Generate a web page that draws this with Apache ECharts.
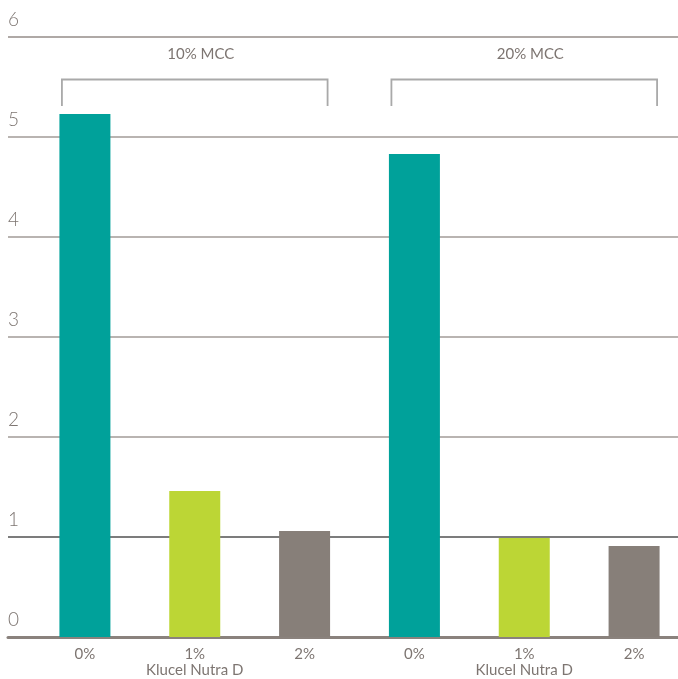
<!DOCTYPE html>
<html>
<head>
<meta charset="utf-8">
<script src="https://cdn.jsdelivr.net/npm/echarts@6/dist/echarts.min.js"></script>
<style>
  html, body { margin: 0; padding: 0; background: #fff; }
  #mycharts { width: 678px; height: 679px; }
</style>
</head>
<body>
<div id="mycharts"></div>
<script>
// data
var categories = ['0%', '1%\nKlucel Nutra D', '2%', '0%', '1%\nKlucel Nutra D', '2%'];
var values = [5.23, 1.46, 1.06, 4.83, 0.99, 0.91];
var barColors = ['#00a19a', '#bcd635', '#877f79', '#00a19a', '#bcd635', '#877f79'];
var groups = [[0, 2, '10% MCC'], [3, 5, '20% MCC']];
var yTicks = [0, 1, 2, 3, 4, 5, 6];

var textColor = '#7d7571';
var fontFamily = 'Lato, "Open Sans", sans-serif';

var myChart = echarts.init(document.getElementById('mycharts'));

var option = {
    animation: false,
    grid: [
        // grid for the full width gridlines and y labels
        { left: 8, right: 0, top: 37, bottom: 42, outerBoundsMode: 'none' },
        // grid for the bars (runs a little past the right edge)
        { left: 30, right: -11, top: 37, bottom: 42, outerBoundsMode: 'none' }
    ],
    xAxis: [{
        gridIndex: 0,
        type: 'value',
        min: 0,
        max: 1,
        axisLine: { show: true, onZero: false, lineStyle: { color: '#8a827d', width: 3 } },
        axisTick: { show: false },
        axisLabel: { show: false },
        splitLine: { show: false }
    }, {
        gridIndex: 1,
        type: 'category',
        data: categories,
        axisLine: { show: false },
        axisTick: { show: false },
        axisLabel: {
            interval: 0,
            color: textColor,
            fontFamily: fontFamily,
            fontSize: 15,
            lineHeight: 16,
            margin: 9
        }
    }],
    yAxis: [{
        gridIndex: 0,
        type: 'value',
        min: yTicks[0],
        max: yTicks[yTicks.length - 1],
        interval: 1,
        axisLine: { show: false },
        axisTick: { show: false },
        axisLabel: {
            inside: true,
            margin: 0,
            color: textColor,
            fontFamily: fontFamily,
            fontSize: 19,
            fontWeight: 300,
            verticalAlign: 'bottom',
            padding: [0, 0, 8, 0]
        },
        splitLine: {
            show: true,
            lineStyle: {
                width: 1.5,
                color: ['rgba(0,0,0,0)', '#505050', '#a29b97', '#a29b97', '#a29b97', '#a29b97', '#948d89']
            }
        }
    }, {
        gridIndex: 1,
        type: 'value',
        min: yTicks[0],
        max: yTicks[yTicks.length - 1],
        interval: 1,
        show: false
    }],
    series: [{
        type: 'bar',
        xAxisIndex: 1,
        yAxisIndex: 1,
        barWidth: 51,
        data: values.map(function (v, i) {
            return { value: v, itemStyle: { color: barColors[i] } };
        })
    }, {
        type: 'custom',
        xAxisIndex: 1,
        yAxisIndex: 1,
        data: groups,
        silent: true,
        renderItem: function (params, api) {
            var a = api.coord([api.value(0), 5.575]);
            var b = api.coord([api.value(1), 5.575]);
            var bottom = api.coord([api.value(0), 5.31])[1];
            var mid = api.coord([(api.value(0) + api.value(1)) / 2, 5.83]);
            var x0 = a[0] - 23, x1 = b[0] + 23;
            return {
                type: 'group',
                children: [{
                    type: 'polyline',
                    shape: { points: [[x0, bottom], [x0, a[1]], [x1, a[1]], [x1, bottom]] },
                    style: { stroke: '#a9a9a9', lineWidth: 1.8, fill: null }
                }, {
                    type: 'text',
                    x: mid[0] + 6,
                    y: mid[1],
                    style: {
                        text: groups[params.dataIndex][2],
                        fill: textColor,
                        font: '15px ' + fontFamily,
                        align: 'center',
                        verticalAlign: 'middle'
                    }
                }]
            };
        }
    }]
};

myChart.setOption(option);
</script>
</body>
</html>
